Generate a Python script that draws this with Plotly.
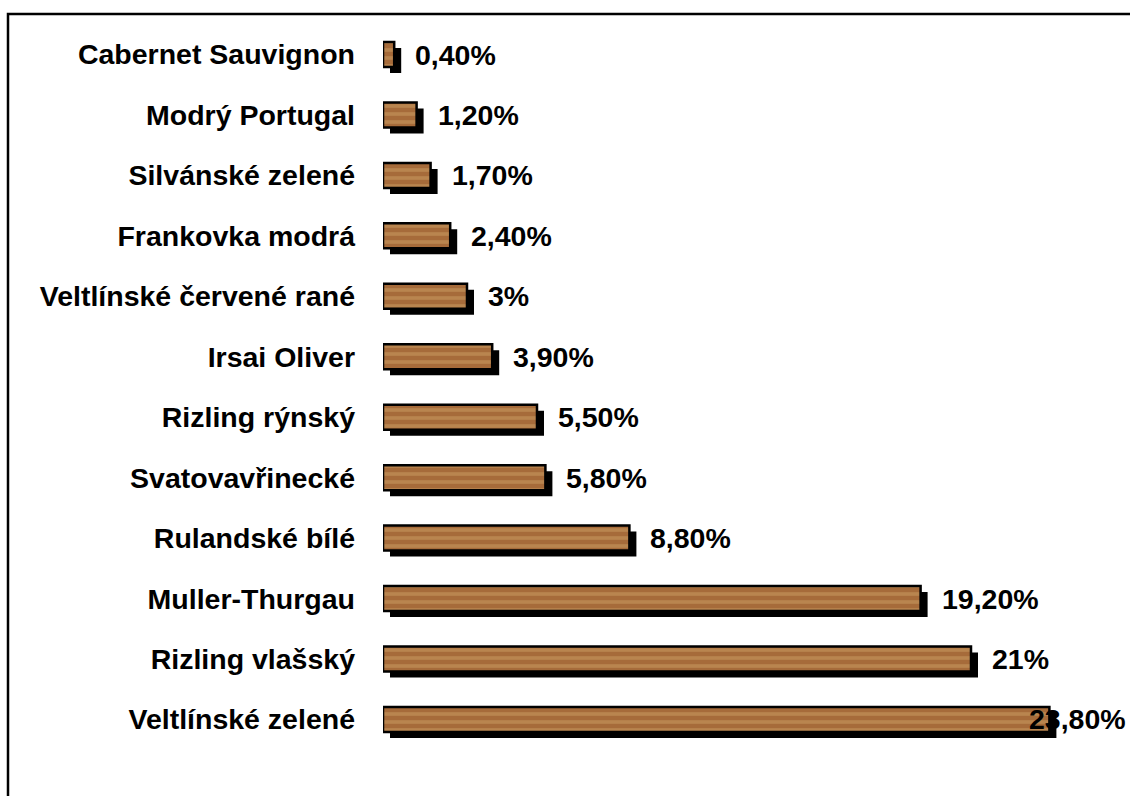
import plotly.graph_objects as go

# ---- data (top to bottom as displayed) ----
categories = [
    "Cabernet Sauvignon", "Modrý Portugal", "Silvánské zelené", "Frankovka modrá",
    "Veltlínské červené rané", "Irsai Oliver", "Rizling rýnský", "Svatovavřinecké",
    "Rulandské bílé", "Muller-Thurgau", "Rizling vlašský", "Veltlínské zelené",
]
values = [0.4, 1.2, 1.7, 2.4, 3.0, 3.9, 5.5, 5.8, 8.8, 19.2, 21.0, 23.8]
value_labels = ["0,40%", "1,20%", "1,70%", "2,40%", "3%", "3,90%", "5,50%",
                "5,80%", "8,80%", "19,20%", "21%", "23,80%"]

# ---- layout geometry ----
W, H = 1130, 796
ML, MR, MT, MB = 383, 10, 14, 0
plot_w = W - ML - MR
px_per_unit = 28.0
x_max = plot_w / px_per_unit
row_px = 60.45
first_center_px = 54.5
y_top = -(first_center_px - MT) / row_px
y_bot = (H - MB - first_center_px) / row_px

idx = list(range(len(categories)))
bar_w = 25 / row_px
shadow_dx = 7 / px_per_unit
shadow_dy = 6 / row_px

font_fam = "Liberation Sans, Arial, sans-serif"
fsize = 28.5

fig = go.Figure()
# shadow
fig.add_trace(go.Bar(
    orientation="h", y=[i + shadow_dy for i in idx], x=values, base=shadow_dx,
    width=bar_w, marker=dict(color="black", line=dict(width=0)),
    hoverinfo="skip", showlegend=False,
))
# wood bars
fig.add_trace(go.Bar(
    orientation="h", y=idx, x=values, width=bar_w,
    marker=dict(
        color="#a86b3c",
        line=dict(color="black", width=2.5),
        pattern=dict(shape="-", fgcolor="#b9854f", bgcolor="#a66b3a",
                     size=8, solidity=0.45, fillmode="replace"),
    ),
    showlegend=False,
))

annotations = []
vmax = max(values)
for i, (v, lab) in enumerate(zip(values, value_labels)):
    if v == vmax:
        annotations.append(dict(x=1, xref="paper", xanchor="right", xshift=MR - 2,
                                y=i, yref="y", text=lab, showarrow=False,
                                font=dict(family=font_fam, size=fsize, color="black", weight="bold")))
    else:
        annotations.append(dict(x=v, xref="x", xanchor="left", xshift=19,
                                y=i, yref="y", text=lab, showarrow=False,
                                font=dict(family=font_fam, size=fsize, color="black", weight="bold")))

fig.update_layout(
    width=W, height=H,
    margin=dict(l=ML, r=MR, t=MT, b=MB, pad=0),
    paper_bgcolor="white", plot_bgcolor="white",
    barmode="overlay",
    xaxis=dict(range=[0, x_max], visible=False, fixedrange=True),
    yaxis=dict(range=[y_bot, y_top], tickmode="array", tickvals=idx, ticktext=categories,
               showgrid=False, zeroline=False, showline=False, ticks="",
               ticklabelstandoff=27,
               tickfont=dict(family=font_fam, size=fsize, color="black", weight="bold")),
    annotations=annotations,
    shapes=[dict(type="rect", xref="paper", yref="paper",
                 x0=(8 - ML) / plot_w, x1=1.2, y0=-0.2, y1=1,
                 line=dict(color="black", width=2.5), fillcolor="rgba(0,0,0,0)", layer="below")],
)

fig.write_html("out.html", config={"displayModeBar": False},
               post_script="document.body.style.margin='0';document.body.style.overflow='hidden';")
